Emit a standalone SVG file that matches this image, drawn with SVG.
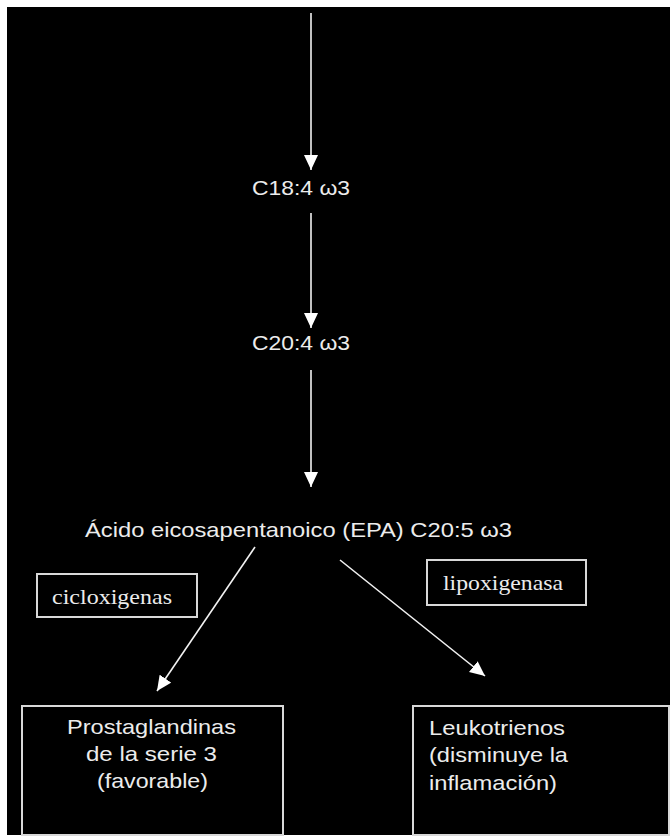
<svg xmlns="http://www.w3.org/2000/svg" width="671" height="838" viewBox="0 0 671 838">
<style>
.t{font-family:"Liberation Sans",Arial,sans-serif;font-size:21px;fill:#ececec}
.s{font-family:"Liberation Serif","Times New Roman",serif;font-size:22px;fill:#ececec}
.box{fill:#000;stroke:#d8d8d8;stroke-width:2}
.c{stroke:#f2f2f2;stroke-width:1.6;fill:none}
</style>
<defs>
<marker id="ah" markerUnits="userSpaceOnUse" markerWidth="15" markerHeight="14" viewBox="0 0 15 14" refX="15" refY="7" orient="auto">
<path d="M0,0 L15,7 L0,14 z" fill="#fff"/>
</marker>
</defs>
<rect x="0" y="0" width="671" height="838" fill="#fff"/>
<rect x="7" y="7" width="663" height="828" fill="#000"/>
<g id="connectors">
<line class="c" x1="311" y1="13" x2="311" y2="170" marker-end="url(#ah)"/>
<line class="c" x1="311" y1="213" x2="311" y2="328" marker-end="url(#ah)"/>
<line class="c" x1="311" y1="370" x2="311" y2="487" marker-end="url(#ah)"/>
<line class="c" x1="255" y1="547" x2="157" y2="691" marker-end="url(#ah)"/>
<line class="c" x1="340" y1="560" x2="485" y2="676" marker-end="url(#ah)"/>
</g>
<g id="c18">
<text class="t" x="252" y="195" textLength="98" lengthAdjust="spacingAndGlyphs">C18:4 ω3</text>
</g>
<g id="c20">
<text class="t" x="252" y="350" textLength="98" lengthAdjust="spacingAndGlyphs">C20:4 ω3</text>
</g>
<g id="epa">
<text class="t" x="85" y="537" textLength="427" lengthAdjust="spacingAndGlyphs">Ácido eicosapentanoico (EPA) C20:5 ω3</text>
</g>
<g id="cicloxigenas">
<rect class="box" x="37" y="574" width="160" height="43"/>
<text class="s" x="52" y="604" textLength="120" lengthAdjust="spacingAndGlyphs">cicloxigenas</text>
</g>
<g id="lipoxigenasa">
<rect class="box" x="427" y="560" width="159" height="45"/>
<text class="s" x="443" y="590" textLength="120" lengthAdjust="spacingAndGlyphs">lipoxigenasa</text>
</g>
<g id="prostaglandinas">
<rect class="box" x="22" y="706" width="261" height="129"/>
<text class="t" x="67" y="734" textLength="169" lengthAdjust="spacingAndGlyphs">Prostaglandinas</text>
<text class="t" x="86" y="761" textLength="131" lengthAdjust="spacingAndGlyphs">de la serie 3</text>
<text class="t" x="97" y="788" textLength="111" lengthAdjust="spacingAndGlyphs">(favorable)</text>
</g>
<g id="leukotrienos">
<rect class="box" x="413" y="706" width="256" height="129"/>
<text class="t" x="429" y="735" textLength="136" lengthAdjust="spacingAndGlyphs">Leukotrienos</text>
<text class="t" x="429" y="762" textLength="139" lengthAdjust="spacingAndGlyphs">(disminuye la</text>
<text class="t" x="429" y="790" textLength="128" lengthAdjust="spacingAndGlyphs">inflamación)</text>
</g>
</svg>
